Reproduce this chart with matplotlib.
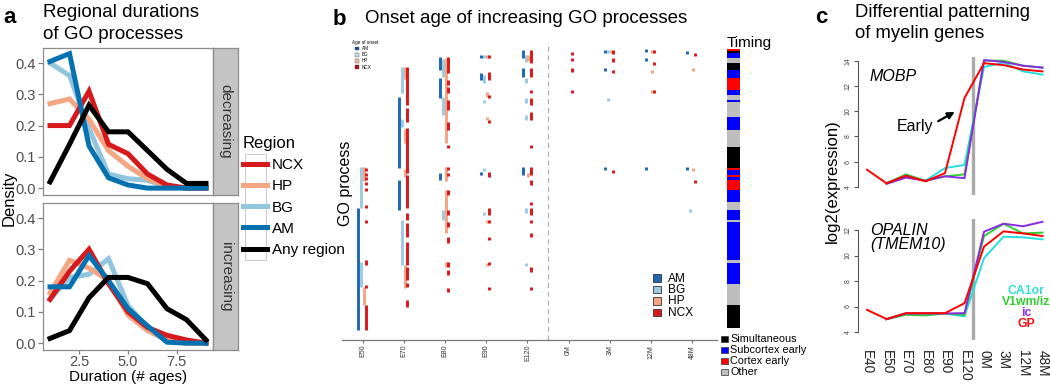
import matplotlib
matplotlib.use('Agg')
import matplotlib.pyplot as plt
from matplotlib.patches import Rectangle
import numpy as np

plt.rcParams['font.family'] = ['Liberation Sans', 'DejaVu Sans']

# ---------------- data: panel a ----------------
durations = [1, 2, 3, 4, 5, 6, 7, 8, 9]
regions = ['NCX', 'HP', 'BG', 'AM', 'Any region']
region_colors = ['#d7191c', '#f4a582', '#92c5de', '#0571b0', '#000000']
dec_ncx = [0.20, 0.20, 0.31, 0.14, 0.11, 0.045, 0.01, 0.0, 0.0]
dec_hp = [0.27, 0.285, 0.22, 0.12, 0.07, 0.03, 0.005, 0.0, 0.0]
dec_bg = [0.40, 0.36, 0.19, 0.045, 0.03, 0.025, 0.005, 0.0, 0.0]
dec_am = [0.405, 0.43, 0.135, 0.033, 0.01, 0.0, 0.0, 0.0, 0.0]
dec_any = [0.02, 0.14, 0.265, 0.18, 0.18, 0.12, 0.06, 0.015, 0.015]
inc_ncx = [0.14, 0.23, 0.30, 0.19, 0.10, 0.05, 0.025, 0.01, 0.0]
inc_hp = [0.16, 0.265, 0.24, 0.20, 0.09, 0.04, 0.01, 0.0, 0.0]
inc_bg = [0.14, 0.21, 0.22, 0.27, 0.12, 0.05, 0.01, 0.0, 0.0]
inc_am = [0.18, 0.18, 0.28, 0.20, 0.11, 0.055, 0.003, 0.0, 0.0]
inc_any = [0.015, 0.04, 0.145, 0.21, 0.21, 0.19, 0.11, 0.075, 0.01]

# ---------------- data: panel b ----------------
onset_ages = ['E50', 'E70', 'E80', 'E90', 'E120', '0M', '3M', '12M', '48M']
# (age column, first GO-process row, last GO-process row)
am_onsets = [(0, 79.5, 140.5),
             (1, 24, 59.5), (1, 65.5, 80.5),
             (2, 4, 10.5), (2, 14.5, 24.5), (2, 62, 65.5),
             (3, 3, 4.5), (3, 12, 15.5), (3, 61.5, 63),
             (4, 0.5, 4.5), (4, 9.5, 14), (4, 59, 63),
             (6, 0.5, 2), (6, 9.5, 11), (6, 59, 60.5),
             (7, 0, 1.5), (7, 4.5, 6), (7, 59, 60.5),
             (8, 1, 2.5), (8, 59, 60.5)]
bg_onsets = [(0, 59, 79.5), (0, 106.5, 119),
             (1, 9, 22), (1, 35, 39), (1, 85.5, 108),
             (2, 5, 14), (2, 24, 33), (2, 80.5, 85.5),
             (3, 3, 4.5), (3, 13, 17), (3, 25.5, 27), (3, 59.5, 61), (3, 81.5, 83),
             (4, 3, 6.5), (4, 14.5, 17), (4, 24.5, 27), (4, 33, 35.5), (4, 79.5, 82), (4, 107, 108.5),
             (6, 0.5, 2), (6, 24.5, 26),
             (8, 80, 81.5)]
hp_onsets = [(0, 59, 66), (0, 119, 128),
             (1, 9, 15), (1, 40, 47), (1, 60, 64), (1, 108, 119.5),
             (2, 4.5, 47), (2, 59, 66), (2, 70.5, 92), (2, 106.5, 109),
             (3, 3, 4.5), (3, 21.5, 24), (3, 34, 35.5), (3, 85.5, 87), (3, 107, 108.5),
             (4, 3, 6), (4, 62, 64),
             (6, 0.5, 2),
             (7, 0.5, 2), (7, 10.5, 12), (7, 20.5, 22),
             (8, 9.5, 11), (8, 59.5, 61)]
ncx_onsets = [(0, 59.5, 61), (0, 62, 63.5), (0, 64, 65.5), (0, 66.5, 68), (0, 69.5, 71), (0, 78, 79.5),
              (0, 85.5, 87), (0, 105.5, 108), (0, 118, 119.5), (0, 128, 140.5),
              (1, 9, 28), (1, 29.5, 36.5), (1, 39.5, 62), (1, 63, 79.5), (1, 82, 85.5), (1, 87, 94),
              (1, 96.5, 108), (1, 109, 115.5), (1, 117, 119), (1, 125.5, 129),
              (2, 4, 12), (2, 15.5, 18), (2, 19, 22), (2, 25.5, 30.5), (2, 36.5, 40.5), (2, 48, 49.5),
              (2, 59, 60.5), (2, 62, 63.5), (2, 70.5, 73), (2, 80.5, 83), (2, 86.5, 89), (2, 94, 97),
              (2, 106.5, 109), (2, 110.5, 113), (2, 119.5, 121.5),
              (3, 3, 4.5), (3, 11.5, 15.5), (3, 23, 24.5), (3, 35.5, 37), (3, 61.5, 64), (3, 79.5, 83),
              (3, 85.5, 87), (3, 94, 95.5), (3, 106.5, 108), (3, 119, 120.5),
              (4, 0.5, 7), (4, 9.5, 14), (4, 20.5, 22), (4, 24.5, 28), (4, 31.5, 35.5), (4, 48, 49.5),
              (4, 59, 63), (4, 65.5, 68), (4, 76.5, 78), (4, 79.5, 83), (4, 85.5, 87), (4, 92, 94),
              (4, 109, 111.5), (4, 119, 120.5),
              (5, 1.5, 3), (5, 4.5, 6), (5, 9.5, 11.5), (5, 20.5, 22),
              (6, 0.5, 2.5), (6, 4.5, 6.5), (6, 10.5, 12), (6, 60.5, 62),
              (7, 0.5, 2), (7, 6.5, 8), (7, 20.5, 22),
              (8, 2, 3.5), (8, 65.5, 67)]
timing_labels = ['Simultaneous', 'Subcortex early', 'Cortex early', 'Other']
timing_colors = ['#000000', '#0000ff', '#ff0000', '#bebebe']
timing_cats = ['Cortex early', 'Simultaneous', 'Subcortex early', 'Other', 'Simultaneous',
               'Subcortex early', 'Cortex early', 'Subcortex early', 'Other', 'Subcortex early',
               'Other', 'Subcortex early', 'Other', 'Simultaneous', 'Cortex early',
               'Subcortex early', 'Cortex early', 'Subcortex early', 'Cortex early',
               'Subcortex early', 'Other', 'Subcortex early', 'Other', 'Subcortex early',
               'Other', 'Subcortex early', 'Other', 'Simultaneous']
timing_sizes = [1, 1, 2.5, 2.5, 3.5, 4, 6, 2.5, 2.5, 1, 7.5, 6.5, 8.5, 10.5, 1, 2.5, 1, 1.5,
                5, 6, 4, 5, 1, 19, 1.5, 10.5, 10.5, 11.5]

# ---------------- data: panel c ----------------
c_ages = ['E40', 'E50', 'E70', 'E80', 'E90', 'E120', '0M', '3M', '12M', '48M']
c_areas = ['CA1or', 'V1wm/iz', 'ic', 'GP']
c_colors = ['#22e0e0', '#33cc33', '#8a2be2', '#ff0000']
nan = np.nan
mobp_ca1or = [nan, 4.3, 4.8, 4.5, 5.5, 5.75, 13.5, 13.85, 13.15, 12.9]
mobp_v1wm = [nan, 4.3, 5.0, 4.5, 4.85, 5.0, 14.0, 14.0, 13.6, 13.45]
mobp_ic = [nan, 4.25, 4.75, 4.5, 4.85, 4.7, 14.05, 13.9, 13.6, 13.45]
mobp_gp = [5.37, 4.3, 4.9, 4.45, 5.1, 11.05, 13.8, 13.65, 13.3, 13.15]
opalin_ca1or = [nan, 5.0, 5.45, 5.45, 5.45, 5.22, 9.8, 11.48, 11.43, 11.27]
opalin_v1wm = [nan, 5.0, 5.35, 5.3, 5.45, 5.35, 11.53, 12.5, 11.74, 11.8]
opalin_ic = [nan, 5.0, 5.45, 5.45, 5.45, 5.48, 11.87, 12.5, 12.3, 12.65]
opalin_gp = [5.74, 5.02, 5.48, 5.48, 5.48, 6.26, 10.7, 11.9, 11.74, 11.53]

# ---------------- figure ----------------
W, H = 1050, 384
fig = plt.figure(figsize=(W / 100, H / 100), dpi=100)


def rect(x0, y0, x1, y1):
    return [x0 / W, 1 - y1 / H, (x1 - x0) / W, (y1 - y0) / H]


def fx(x):
    return x / W


def fy(y):
    return 1 - y / H


# ================= panel a =================
fig.text(fx(3), fy(23), 'a', fontsize=16, fontweight='bold', va='baseline')
fig.text(fx(43), fy(17), 'Regional durations', fontsize=13.5, va='baseline')
fig.text(fx(43), fy(39), 'of GO processes', fontsize=13.5, va='baseline')

axa1 = fig.add_axes(rect(43, 48, 213, 195))
axa2 = fig.add_axes(rect(43, 203, 213, 350))
dec_series = [dec_ncx, dec_hp, dec_bg, dec_am, dec_any]
inc_series = [inc_ncx, inc_hp, inc_bg, inc_am, inc_any]
draw_order = [2, 1, 0, 3, 4]
handles = {}
for ax, series, lab, (y0, y1) in [(axa1, dec_series, 'decreasing', (48, 195)),
                                  (axa2, inc_series, 'increasing', (203, 350))]:
    for i in draw_order:
        ln, = ax.plot(durations, series[i], color=region_colors[i], lw=3.6,
                      solid_joinstyle='miter', label=regions[i])
        handles[regions[i]] = ln
    ax.set_xlim(0.64, 9.36)
    ax.set_ylim(-0.022, 0.448)
    ax.set_yticks([0.0, 0.1, 0.2, 0.3, 0.4])
    ax.set_yticklabels(['0.0', '0.1', '0.2', '0.3', '0.4'])
    ax.set_xticks([2.5, 5.0, 7.5])
    ax.set_xticklabels(['2.5', '5.0', '7.5'])
    for s in ax.spines.values():
        s.set_color('#8c8c8c')
        s.set_linewidth(0.9)
    ax.tick_params(colors='#7f7f7f', labelcolor='#4d4d4d', labelsize=10.5, length=3.5,
                   width=0.9, pad=1.5)
    ax.tick_params(axis='x', pad=0.5, length=3)
    sax = fig.add_axes(rect(213, y0, 238, y1))
    sax.set_facecolor('#c4c4c4')
    sax.set_xticks([])
    sax.set_yticks([])
    for s in sax.spines.values():
        s.set_color('#8c8c8c')
        s.set_linewidth(0.9)
    sax.text(0.5, 0.5, lab, rotation=270, ha='center', va='center', fontsize=11,
             color='#333333', transform=sax.transAxes)
axa1.tick_params(axis='x', length=0, labelbottom=False)

fig.text(fx(9), fy(198), 'Density', rotation=90, ha='center', va='center', fontsize=12)
fig.text(fx(128), fy(377.5), 'Duration (# ages)', ha='center', va='center', fontsize=11)

# legend key column decoration
fig.patches.append(Rectangle((fx(245), fy(260)), (266 - 245) / W, (260 - 154) / H,
                             transform=fig.transFigure, facecolor='white',
                             edgecolor='#cccccc', lw=0.8, zorder=0))
leg_a = fig.legend([handles[r] for r in regions], regions, loc='upper left',
                   bbox_to_anchor=(fx(240), fy(133)), title='Region', title_fontsize=12,
                   fontsize=11, frameon=False, handlelength=1.55, labelspacing=0.47,
                   handletextpad=0.35, alignment='left', borderaxespad=0, borderpad=0.2)

# ================= panel b =================
fig.text(fx(333), fy(25), 'b', fontsize=16, fontweight='bold', va='baseline')
fig.text(fx(365), fy(23), 'Onset age of increasing GO processes', fontsize=13.5, va='baseline')

axb = fig.add_axes(rect(342, 44, 717, 340))
axb.set_xlim(-0.51, 8.61)
axb.set_ylim(145.5, -2.5)
region_offsets = {'AM': -0.12, 'BG': -0.045, 'HP': 0.02, 'NCX': 0.075}
b_colors = {'AM': '#1f67b0', 'BG': '#9ecae1', 'HP': '#f4a582', 'NCX': '#d7191c'}
for name, segs in [('AM', am_onsets), ('BG', bg_onsets), ('HP', hp_onsets), ('NCX', ncx_onsets)]:
    cols = np.array([s[0] for s in segs], dtype=float) + region_offsets[name]
    axb.vlines(cols, [s[1] for s in segs], [s[2] for s in segs], color=b_colors[name],
               lw=2.1)
axb.axvline(4.5, color='#b0b0b0', ls=(0, (4, 3)), lw=0.9)
axb.set_xticks(range(len(onset_ages)))
axb.set_xticklabels(onset_ages, rotation=90, fontsize=5, color='#333333')
axb.set_yticks([])
for side in ['left', 'right', 'top']:
    axb.spines[side].set_visible(False)
axb.spines['bottom'].set_color('#777777')
axb.spines['bottom'].set_linewidth(0.9)
axb.tick_params(axis='x', length=2, color='#777777', pad=1.5)
axb.patch.set_alpha(0)
fig.text(fx(346), fy(183), 'GO process', rotation=90, ha='center', va='center', fontsize=11.5)

# tiny legend
fig.text(fx(352), fy(44), 'Age of onset', fontsize=3.3, va='baseline')
tiny_cols = ['#08519c', '#c6dbef', '#fcbba1', '#a50f15']
for i, (lab, c) in enumerate(zip(['AM', 'BG', 'HP', 'NCX'], tiny_cols)):
    yy = 48.5 + i * 6.2
    fig.patches.append(Rectangle((fx(355), fy(yy + 1.8)), 3.6 / W, 3.6 / H,
                                 transform=fig.transFigure, facecolor=c,
                                 edgecolor='#555555', lw=0.3))
    fig.text(fx(362), fy(yy), lab, fontsize=3.3, va='center')

# main legend in b
for i, lab in enumerate(['AM', 'BG', 'HP', 'NCX']):
    yy = 278 + i * 11.4
    fig.patches.append(Rectangle((fx(653), fy(yy + 3.8)), 7.5 / W, 7.5 / H,
                                 transform=fig.transFigure, facecolor=b_colors[lab],
                                 edgecolor='#333333', lw=0.6))
    fig.text(fx(668), fy(yy + 0.5), lab, fontsize=8.6, va='center')

# timing strip
axt = fig.add_axes(rect(727, 44, 740, 340))
axt.set_xlim(-0.5, 0.5)
axt.set_ylim(145.5, -2.5)
starts = np.concatenate([[0], np.cumsum(timing_sizes)[:-1]])
cmap_t = dict(zip(timing_labels, timing_colors))
axt.bar(np.zeros(len(timing_sizes)), timing_sizes, bottom=starts, width=1.0,
        color=[cmap_t[c] for c in timing_cats], linewidth=0)
axt.axis('off')
fig.text(fx(727), fy(47), 'Timing', fontsize=11, va='baseline')
for i, (lab, c) in enumerate(zip(timing_labels, timing_colors)):
    yy = 339 + i * 11
    fig.patches.append(Rectangle((fx(721), fy(yy + 3.2)), 6.5 / W, 6.5 / H,
                                 transform=fig.transFigure, facecolor=c,
                                 edgecolor='#333333', lw=0.5))
    fig.text(fx(730.5), fy(yy), lab, fontsize=7.8, va='center')

# ================= panel c =================
fig.text(fx(815), fy(23), 'c', fontsize=16, fontweight='bold', va='baseline')
fig.text(fx(855), fy(17), 'Differential patterning', fontsize=13.3, va='baseline')
fig.text(fx(855), fy(38), 'of myelin genes', fontsize=13.3, va='baseline')

axc1 = fig.add_axes(rect(858, 57, 1048, 195))
axc2 = fig.add_axes(rect(858, 219, 1048, 340))
xi = np.arange(len(c_ages))
for ax, sets, ylim, ticks in [
        (axc1, [mobp_ca1or, mobp_v1wm, mobp_ic, mobp_gp], (3.37, 14.29), [4, 6, 8, 10, 12, 14]),
        (axc2, [opalin_ca1or, opalin_v1wm, opalin_ic, opalin_gp], (3.37, 12.87), [4, 6, 8, 10, 12])]:
    ax.axvline(5.45, color='#aaaaaa', lw=2.4, zorder=1)
    for vals, c in zip(sets, c_colors):
        ax.plot(xi, vals, color=c, lw=1.4, zorder=3)
    ax.set_xlim(-0.46, 9.28)
    ax.set_ylim(*ylim)
    ax.set_yticks(ticks)
    ax.set_yticklabels([str(t) for t in ticks], rotation=90, va='center', fontsize=5,
                       color='#444444')
    for side in ['right', 'top', 'bottom']:
        ax.spines[side].set_visible(False)
    ax.spines['left'].set_bounds(ticks[0], ticks[-1])
    ax.spines['left'].set_color('#555555')
    ax.spines['left'].set_linewidth(0.8)
    ax.tick_params(axis='y', length=3, color='#555555', pad=1.5, width=0.8)
    ax.patch.set_alpha(0)
axc1.set_xticks([])
axc2.set_xticks(xi)
axc2.set_xticklabels(c_ages, rotation=270, fontsize=9.8, color='#222222', va='top', ha='center')
axc2.tick_params(axis='x', length=0, pad=7)

axc1.text(0.15, 12.75, 'MOBP', fontsize=11.5, fontstyle='italic', va='center')
axc2.text(0.15, 11.95, 'OPALIN', fontsize=11.5, fontstyle='italic', va='center')
axc2.text(0.15, 10.9, '(TMEM10)', fontsize=11.5, fontstyle='italic', va='center')
axc1.annotate('Early', xy=(4.5, 9.95), xytext=(2.45, 8.8), fontsize=11.5, ha='center',
              va='center',
              arrowprops=dict(arrowstyle='-|>', color='black', lw=1.6, relpos=(1.0, 0.65),
                              shrinkA=2, shrinkB=0, mutation_scale=10))
fig.text(fx(832), fy(181), 'log2(expression)', rotation=90, ha='center', va='center',
         fontsize=12)
for i, (lab, c) in enumerate(zip(c_areas, ['#33dddd', '#33cc33', '#9933ee', '#ee1111'])):
    fig.text(fx(1026), fy(291 + i * 11), lab, fontsize=8.8, fontweight='bold', color=c,
             ha='center', va='center')

fig.savefig('out.png', dpi=100)
